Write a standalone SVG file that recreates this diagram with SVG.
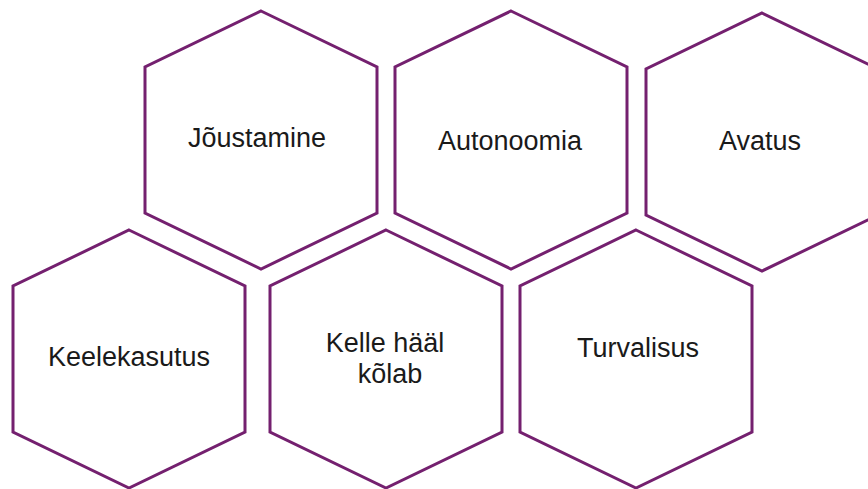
<svg xmlns="http://www.w3.org/2000/svg" width="868" height="489" viewBox="0 0 868 489">
<style>
.hex{fill:#ffffff;stroke:#74206f;stroke-width:3;stroke-linejoin:miter}
.lbl{font-family:"Liberation Sans",Arial,sans-serif;font-size:27px;fill:#1a1a1a;text-anchor:middle}
</style>
<rect width="868" height="489" fill="#ffffff"/>
<g id="connectors"></g>
<g id="n-joustamine">
<polygon class="hex" points="261,11 377,67 377,213 261,269 145,213 145,67"/>
<text class="lbl" x="257" y="147">Jõustamine</text>
</g>
<g id="n-autonoomia">
<polygon class="hex" points="511,11 627,67 627,213 511,269 395,213 395,67"/>
<text class="lbl" x="510" y="150">Autonoomia</text>
</g>
<g id="n-avatus">
<polygon class="hex" points="762,13 878,69 878,215 762,271 646,215 646,69"/>
<text class="lbl" x="760" y="150">Avatus</text>
</g>
<g id="n-keelekasutus">
<polygon class="hex" points="129,230 245,286 245,432 129,488 13,432 13,286"/>
<text class="lbl" x="129" y="366">Keelekasutus</text>
</g>
<g id="n-kelle">
<polygon class="hex" points="386,230 502,286 502,432 386,488 270,432 270,286"/>
<text class="lbl" x="385" y="352">Kelle hääl</text>
<text class="lbl" x="390" y="383">kõlab</text>
</g>
<g id="n-turvalisus">
<polygon class="hex" points="636,230 752,286 752,432 636,488 520,432 520,286"/>
<text class="lbl" x="638" y="357">Turvalisus</text>
</g>
</svg>
